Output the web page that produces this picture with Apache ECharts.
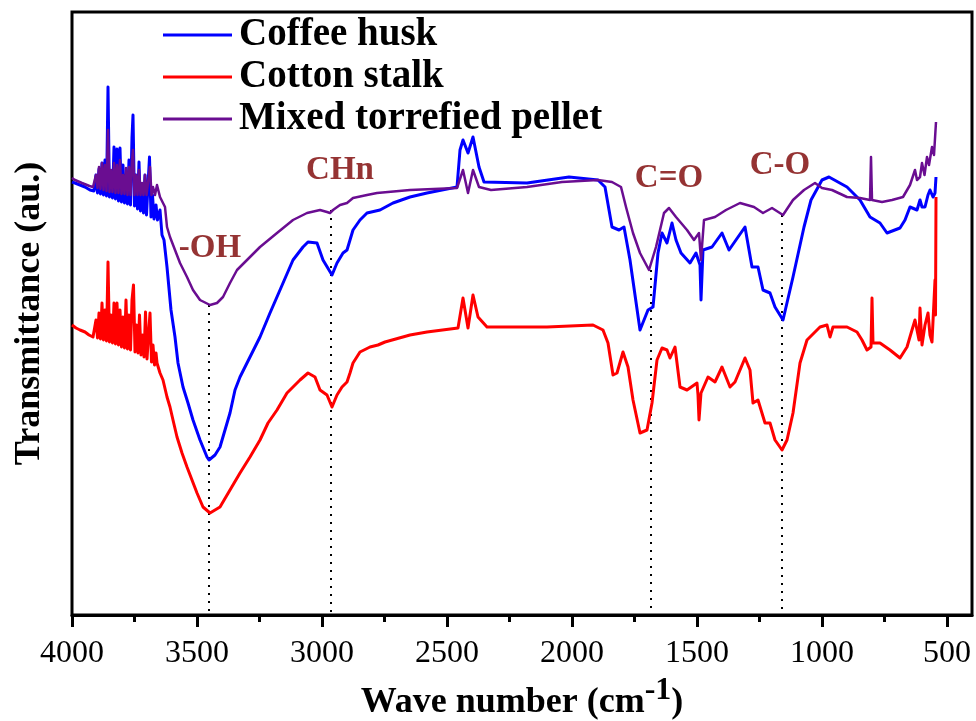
<!DOCTYPE html>
<html>
<head>
<meta charset="utf-8">
<script src="https://cdn.jsdelivr.net/npm/echarts@6/dist/echarts.min.js"></script>
<style>
  html, body { margin: 0; padding: 0; background: #fff; }
  #chart { width: 976px; height: 721px; }
</style>
</head>
<body>
<div id="chart"></div>
<script>
// FTIR spectra: [wave number (cm-1), transmittance (arbitrary units, curves offset)]
const coffeeHusk = [
  [4000,433],[3988,432],[3968,430],[3948,428],[3928,425],[3912,424],[3904,440],[3898,422],[3892,446],[3886,421],
  [3880,452],[3874,420],[3868,455],[3862,419],[3856,528],[3850,418],[3844,440],[3838,417],[3832,468],[3826,416],
  [3820,466],[3814,414],[3808,467],[3802,413],[3796,450],[3790,412],[3784,440],[3778,411],[3772,455],[3766,410],
  [3760,478],[3756,500],[3750,409],[3744,440],[3738,406],[3732,453],[3726,404],[3720,430],[3714,402],[3708,440],
  [3702,400],[3696,430],[3690,458],[3684,398],[3678,420],[3672,396],[3664,410],[3658,395],[3648,405],[3640,380],
  [3632,375],[3620,348],[3604,305],[3588,278],[3576,252],[3556,228],[3536,212],[3516,195],[3488,175],[3460,158],
  [3452,155],[3428,160],[3408,168],[3388,185],[3368,202],[3348,225],[3328,238],[3288,258],[3248,278],[3208,302],
  [3168,325],[3116,355],[3076,368],[3056,373],[3020,372],[2996,355],[2960,340],[2940,352],[2916,362],[2900,365],
  [2876,385],[2848,395],[2820,402],[2768,405],[2716,412],[2648,418],[2580,422],[2460,428],[2448,465],[2436,475],
  [2416,462],[2396,478],[2372,448],[2352,433],[2180,432],[2012,438],[1896,435],[1868,428],[1840,388],[1812,385],
  [1792,388],[1768,355],[1728,285],[1696,305],[1676,308],[1656,362],[1640,382],[1620,372],[1600,392],[1584,375],
  [1564,362],[1528,352],[1504,362],[1488,350],[1484,315],[1476,365],[1440,368],[1400,382],[1372,365],[1308,388],
  [1280,348],[1256,348],[1236,325],[1208,322],[1188,308],[1156,295],[1116,338],[1072,388],[1044,415],[1000,435],
  [972,438],[900,428],[848,415],[808,398],[768,392],[740,382],[688,387],[668,395],[648,408],[620,405],
  [608,415],[600,408],[588,408],[576,420],[568,425],[556,418],[548,422],[544,438]
];

const cottonStalk = [
  [4000,290],[3984,287],[3968,285],[3948,283],[3932,280],[3916,278],[3904,295],[3898,277],[3892,302],[3886,276],
  [3880,312],[3874,275],[3868,305],[3862,274],[3856,353],[3850,273],[3844,300],[3838,272],[3832,312],[3826,271],
  [3820,312],[3814,270],[3808,305],[3802,268],[3796,298],[3790,267],[3784,315],[3778,266],[3772,300],[3766,265],
  [3760,315],[3754,330],[3748,263],[3742,290],[3736,262],[3730,300],[3724,260],[3718,280],[3712,258],[3706,303],
  [3700,256],[3694,280],[3688,302],[3682,253],[3676,270],[3670,250],[3664,262],[3660,252],[3648,242],[3636,235],
  [3620,218],[3608,208],[3596,195],[3580,178],[3560,162],[3540,148],[3520,135],[3500,122],[3476,108],[3448,102],
  [3428,105],[3408,108],[3368,125],[3328,142],[3288,158],[3248,175],[3216,192],[3180,205],[3140,222],[3116,228],
  [3088,235],[3056,242],[3028,238],[3008,225],[2980,220],[2960,208],[2940,220],[2920,228],[2900,233],[2888,242],
  [2876,252],[2848,263],[2808,268],[2776,270],[2748,273],[2648,280],[2580,283],[2456,287],[2436,317],[2416,287],
  [2396,320],[2376,298],[2340,288],[2100,288],[1916,290],[1876,285],[1856,272],[1836,240],[1820,242],[1796,263],
  [1776,248],[1756,215],[1728,182],[1700,185],[1680,212],[1660,255],[1640,267],[1620,265],[1608,257],[1588,268],
  [1568,228],[1540,225],[1500,232],[1496,220],[1492,195],[1484,222],[1456,238],[1428,233],[1400,248],[1368,228],
  [1348,233],[1308,257],[1288,245],[1276,212],[1256,215],[1228,192],[1208,192],[1188,175],[1160,165],[1140,175],
  [1116,202],[1088,252],[1060,275],[1008,288],[980,290],[968,278],[956,288],[900,288],[860,283],[840,275],
  [820,265],[804,268],[800,317],[796,272],[768,272],[728,265],[688,257],[660,268],[640,285],[628,295],
  [612,275],[608,307],[600,270],[588,290],[576,302],[568,280],[560,273],[548,335],[546,300],[544,418]
];

const mixedPellet = [
  [4000,437],[3988,435],[3960,432],[3930,429],[3916,428],[3904,440],[3898,427],[3892,448],[3886,426],[3880,452],
  [3874,425],[3868,450],[3862,424],[3856,485],[3850,423],[3844,445],[3838,423],[3832,452],[3826,422],[3820,450],
  [3814,422],[3808,455],[3802,421],[3796,440],[3790,421],[3784,447],[3778,420],[3772,448],[3766,420],[3760,455],
  [3756,465],[3750,420],[3744,440],[3738,420],[3732,445],[3726,420],[3720,432],[3714,420],[3708,440],[3702,420],
  [3696,432],[3688,448],[3682,420],[3676,428],[3668,420],[3660,430],[3648,418],[3640,420],[3628,408],[3620,388],
  [3608,378],[3588,365],[3568,352],[3540,338],[3516,325],[3488,315],[3448,310],[3420,312],[3396,318],[3368,332],
  [3340,345],[3300,355],[3248,368],[3180,382],[3116,395],[3060,402],[3008,405],[2980,403],[2968,402],[2956,405],
  [2928,410],[2900,412],[2876,417],[2820,420],[2780,422],[2648,425],[2460,427],[2436,445],[2416,422],[2396,445],
  [2372,428],[2324,425],[2180,428],[2040,433],[1896,435],[1840,433],[1804,428],[1784,408],[1756,382],[1728,362],
  [1692,345],[1664,368],[1632,402],[1612,407],[1584,398],[1540,385],[1512,375],[1492,382],[1484,355],[1472,395],
  [1428,398],[1384,405],[1328,412],[1272,408],[1236,402],[1200,407],[1156,400],[1116,415],[1072,425],[1028,432],
  [1000,427],[960,425],[900,418],[848,417],[808,415],[804,458],[800,415],[760,413],[720,415],[676,418],
  [648,430],[628,445],[620,435],[608,438],[600,452],[590,440],[580,458],[572,450],[560,468],[552,460],[544,493]
];

// Band assignments: label, wave number of the band, top of the guide line
const bandNames = ['-OH', 'CHn', 'C=O', 'C-O'];
const bandWaveNumbers = [3452, 2964, 1684, 1160];
const bandGuideTops = [310, 405, 345, 400];
// Where each band label sits, in data coordinates
const bandLabelPos = [[3448, 367], [2928, 445], [1612, 437], [1168, 450]];

const majorTicks = [4000, 3500, 3000, 2500, 2000, 1500, 1000, 500];
const minorTicks = [3750, 3250, 2750, 2250, 1750, 1250, 750];

const serif = "'Liberation Serif', 'Times New Roman', serif";

const chart = echarts.init(document.getElementById('chart'));

const guideSeries = bandWaveNumbers.map((wn, i) => ({
  type: 'line',
  name: 'guide-' + i,
  data: [[wn, bandGuideTops[i]], [wn, 0]],
  symbol: 'none',
  silent: true,
  z: 1,
  lineStyle: { color: '#000', width: 2, type: [2, 6] }
}));

const spectrum = (name, data, color, width) => ({
  type: 'line',
  name,
  data,
  symbol: 'none',
  showSymbol: false,
  z: 3,
  color,
  lineStyle: { color, width, join: 'round' }
});

chart.setOption({
  animation: false,
  backgroundColor: '#fff',
  grid: {
    left: 72, right: 4, top: 12, bottom: 106,
    outerBoundsMode: 'none',
    show: true, borderColor: '#000', borderWidth: 3
  },
  legend: {
    data: ['Coffee husk', 'Cotton stalk', 'Mixed torrefied pellet'],
    orient: 'vertical',
    left: 158,
    top: 10,
    icon: 'rect',
    itemWidth: 69,
    itemHeight: 3,
    itemGap: 2,
    textStyle: {
      fontFamily: serif, fontSize: 39, fontWeight: 'bold', color: '#000',
      lineHeight: 40, padding: [0, 0, 0, 2]
    }
  },
  xAxis: [
    {
      type: 'value', min: 400, max: 4000, inverse: true,
      axisLine: { show: true, onZero: false, lineStyle: { color: '#000', width: 3 } },
      axisTick: { show: true, customValues: majorTicks, length: 12, lineStyle: { color: '#000', width: 3 } },
      axisLabel: {
        customValues: majorTicks, fontFamily: serif, fontSize: 32, color: '#000', margin: 23,
        formatter: v => String(v)
      },
      splitLine: { show: false },
      name: '{t|Wave number (cm}{s|-1}{t|)}',
      nameLocation: 'middle',
      nameGap: 60,
      nameTextStyle: {
        rich: {
          t: { fontFamily: serif, fontSize: 36, fontWeight: 'bold', color: '#000', lineHeight: 46, verticalAlign: 'bottom' },
          s: { fontFamily: serif, fontSize: 32, fontWeight: 'bold', color: '#000', lineHeight: 30, verticalAlign: 'top' }
        }
      }
    },
    {
      type: 'value', min: 400, max: 4000, inverse: true, position: 'bottom',
      axisLine: { show: false },
      axisTick: { show: true, customValues: minorTicks, length: 7, lineStyle: { color: '#000', width: 3 } },
      axisLabel: { show: false },
      splitLine: { show: false }
    }
  ],
  yAxis: {
    type: 'value', min: 0, max: 603,
    axisLine: { show: false }, axisTick: { show: false },
    axisLabel: { show: false }, splitLine: { show: false },
    name: 'Transmittance (au.)',
    nameLocation: 'middle',
    nameGap: 24,
    nameTextStyle: { fontFamily: serif, fontSize: 36, fontWeight: 'bold', color: '#000' }
  },
  series: [
    ...guideSeries,
    spectrum('Cotton stalk', cottonStalk, '#ff0000', 3),
    spectrum('Coffee husk', coffeeHusk, '#0000ff', 3),
    spectrum('Mixed torrefied pellet', mixedPellet, '#6a0d91', 2.5),
    {
      type: 'scatter',
      name: 'bands',
      silent: true,
      symbolSize: 1,
      itemStyle: { color: 'rgba(0,0,0,0)' },
      z: 4,
      data: bandNames.map((n, i) => ({ name: n, value: bandLabelPos[i] })),
      label: {
        show: true, position: 'inside',
        formatter: p => p.name,
        fontFamily: serif, fontSize: 33, fontWeight: 'bold', color: '#7a0000'
      }
    }
  ]
});
</script>
</body>
</html>
